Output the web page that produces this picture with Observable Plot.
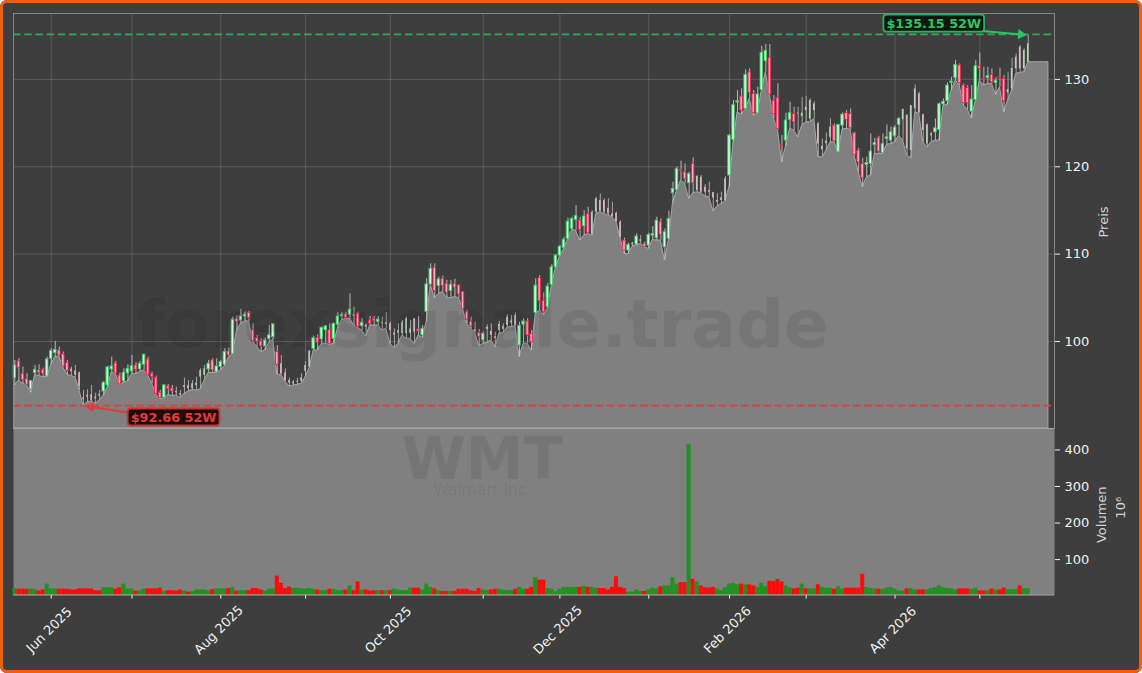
<!DOCTYPE html>
<html><head><meta charset="utf-8">
<script src="https://cdn.jsdelivr.net/npm/d3@7"></script>
<script src="https://cdn.jsdelivr.net/npm/@observablehq/plot@0.6"></script>
<style>
html,body{margin:0;padding:0;background:#fff}
#fig{position:relative;width:1142px;height:673px;box-sizing:border-box;overflow:hidden;background:#3e3e3e;border-radius:7px;box-shadow:inset 0 0 0 3px #ee5f0c}
#top,#bot{position:absolute;left:0}
#top{top:0}#bot{top:428px}
svg{overflow:visible;background:none!important}
</style></head><body><div id="fig"><div id="top"></div><div id="bot"></div></div>
<script>
const opens=[95.87,97.78,96.37,95.79,94.57,96.44,96.75,96.78,96.06,98.08,
98.73,99.04,98.58,97.62,96.9,96.7,96.48,93.6,93.9,93.96,
93.7,94.0,94.34,95.03,96.86,97.55,96.17,95.49,96.40,96.63,
97.32,96.86,97.40,98.00,96.37,95.91,94.19,93.65,94.92,94.65,
94.34,94.1,94.8,95.03,94.65,95.0,95.98,96.17,96.86,97.89,
96.56,97.13,97.40,98.92,98.65,102.66,102.47,102.93,103.35,101.33,
100.45,100.07,99.49,100.37,100.56,98.84,97.50,96.47,95.6,95.2,
95.4,95.5,96.63,97.12,99.22,100.48,100.29,101.36,101.36,100.37,
101.97,102.96,103.19,103.12,103.12,103.23,101.82,101.9,102.47,102.66,
102.28,102.2,102.0,102.08,100.8,101.0,100.94,100.94,101.0,102.66,
101.44,100.75,103.42,106.59,108.50,106.40,107.24,106.67,105.83,106.67,
106.47,105.71,103.42,102.28,101.4,101.05,100.18,101.44,101.21,100.6,
101.32,101.44,101.89,102.2,103.04,99.60,101.97,102.35,100.92,103.33,
107.33,104.74,103.97,106.53,108.55,109.89,110.77,111.80,112.94,113.97,
113.90,113.25,114.66,112.37,114.85,116.19,116.19,115.31,114.66,114.74,
113.71,111.61,110.46,111.1,111.15,111.5,111.23,111.04,112.18,111.88,
113.71,110.84,111.80,117.03,117.41,119.70,119.43,118.17,120.39,117.33,
118.86,117.71,117.33,117.10,116.0,116.2,116.19,119.05,123.14,127.41,
128.10,126.68,130.88,128.40,126.19,128.86,132.14,132.53,127.60,127.94,
122.49,123.06,125.43,126.10,126.2,125.8,126.87,125.53,126.49,124.96,
122.0,122.7,123.43,124.77,121.72,124.77,126.22,126.10,123.89,121.91,
120.38,120.26,120.38,122.55,123.36,121.64,123.24,123.05,123.55,124.85,
125.46,125.91,121.91,126.68,128.39,125.99,122.67,123.6,124.0,124.27,
127.2,127.56,129.65,130.19,131.64,129.35,129.08,126.37,127.71,131.56,
130.11,130.19,130.57,129.65,130.30,130.11,128.5,128.97,131.26,133.74,
131.26,132.02];
const highs=[97.89,98.08,97.13,96.37,95.60,97.32,97.40,97.01,98.27,99.23,
100.07,99.42,98.85,97.89,97.13,97.32,96.56,94.46,94.53,95.03,
94.15,94.46,95.49,97.20,98.27,97.78,96.44,96.94,97.40,98.46,
97.62,97.78,98.62,98.27,96.56,96.10,94.46,95.11,95.11,95.03,
94.84,94.46,95.87,95.60,95.60,95.98,96.94,97.32,97.89,98.08,
98.08,97.89,99.23,99.30,102.85,102.97,103.73,103.43,103.50,102.09,
100.75,100.37,100.45,101.90,102.09,99.60,98.46,96.93,95.86,95.60,
95.86,96.36,97.77,99.03,100.67,100.83,101.70,101.89,102.08,102.16,
103.34,103.42,103.42,105.52,103.99,103.42,102.66,102.08,102.92,102.92,
102.92,102.85,103.34,102.28,101.51,102.08,102.47,102.85,102.47,102.66,
102.92,101.89,107.24,108.96,108.96,107.43,107.54,107.05,107.05,107.16,
106.55,105.79,103.61,102.85,102.28,101.44,101.13,101.97,102.08,101.13,
102.35,102.08,103.12,103.04,103.34,102.28,102.66,102.66,101.30,107.22,
107.60,105.62,106.72,108.86,110.00,111.04,111.99,114.17,114.28,115.62,
114.28,115.04,115.42,115.04,116.57,116.95,116.38,116.38,116.00,114.85,
113.90,111.88,111.30,111.42,112.37,112.18,111.42,112.45,113.21,114.28,
114.09,112.94,114.97,118.29,120.01,120.69,120.39,119.43,121.07,119.05,
119.05,118.02,118.29,117.14,116.95,117.14,118.94,123.71,127.64,128.78,
128.97,131.15,131.27,128.78,129.17,133.86,134.05,134.05,128.21,129.55,
123.63,126.19,127.45,126.87,126.87,128.0,128.13,127.82,127.52,125.15,
123.24,123.93,125.53,124.96,124.89,126.22,126.49,126.68,124.00,122.17,
121.03,121.14,123.81,123.32,123.55,123.81,124.85,124.58,124.77,125.72,
126.68,126.03,127.06,129.43,128.59,126.10,124.96,124.0,125.53,127.36,
127.82,129.65,130.30,132.21,131.83,129.54,129.35,129.35,132.21,133.09,
131.45,131.45,131.26,130.30,131.33,130.49,130.88,132.48,132.98,133.93,
133.55,135.15];
const lows=[95.03,95.60,95.22,95.03,94.19,96.25,96.10,95.98,95.98,97.40,
98.27,98.39,97.05,96.25,96.10,95.98,94.46,92.66,93.12,93.20,
92.93,93.31,93.88,94.84,96.56,96.33,95.11,95.33,95.49,96.37,
96.33,96.56,96.75,96.17,95.22,93.96,93.43,93.58,93.96,93.81,
93.88,93.58,94.07,94.34,94.50,94.46,94.57,95.60,96.48,96.44,
96.44,96.75,97.24,98.27,98.58,101.33,102.09,102.36,102.36,100.07,
99.42,98.85,99.04,99.91,100.29,96.25,96.25,95.48,94.91,95.02,
95.10,95.21,95.98,97.01,99.03,99.03,99.80,99.80,99.68,99.80,
101.51,102.47,102.66,102.66,101.89,101.59,101.32,100.63,101.89,101.89,
101.89,101.32,101.51,99.80,99.30,99.80,100.75,100.37,100.37,99.80,
100.75,100.44,102.35,106.55,105.02,105.52,105.71,105.06,105.02,105.14,
105.02,103.73,102.08,101.51,101.05,99.53,99.80,99.91,100.18,99.41,
100.94,101.05,101.70,101.70,101.82,98.27,99.80,99.80,99.01,103.21,
103.59,103.10,103.86,106.45,108.48,109.78,110.65,111.68,112.83,112.75,
111.61,112.18,112.37,112.18,114.66,114.85,114.66,114.47,114.28,113.71,
111.91,110.08,110.08,110.92,111.04,111.23,110.84,110.65,111.68,111.61,
111.61,109.32,111.68,115.88,117.33,118.48,118.10,116.38,117.03,117.14,
117.03,116.65,116.57,114.97,115.50,115.81,116.11,117.71,122.87,126.30,
126.04,126.61,127.83,125.92,126.11,128.78,130.88,128.21,125.54,124.28,
120.58,122.37,124.40,124.20,123.43,124.77,125.15,125.15,125.53,121.14,
121.14,121.91,122.86,122.86,121.72,124.31,124.39,124.31,121.26,119.43,
117.71,118.85,119.04,121.53,121.53,121.53,122.55,122.67,122.86,123.62,
123.05,121.33,121.03,126.30,126.10,122.86,122.29,122.86,123.05,123.05,
127.06,127.14,128.78,129.92,129.43,127.06,126.60,125.61,127.63,129.92,
129.35,129.54,129.54,128.28,129.16,126.30,127.63,128.78,130.69,130.80,
130.88,132.02];
const closes=[97.32,97.01,95.64,95.11,95.53,96.82,96.44,96.37,98.00,98.96,
99.11,98.46,97.20,96.67,96.6,96.2,94.92,93.4,93.7,93.31,
93.5,93.8,95.33,97.09,97.20,96.40,95.14,96.48,96.94,97.24,
96.78,97.51,98.54,96.25,95.98,94.07,93.58,95.03,94.65,94.34,
94.19,93.9,95.0,94.65,95.22,95.3,96.75,96.94,97.51,96.75,
97.20,97.70,98.85,98.46,102.55,102.28,102.93,103.12,102.74,100.11,
99.99,99.49,100.18,100.75,102.01,97.39,96.36,95.60,95.3,95.4,
95.5,95.9,97.31,98.92,100.44,99.91,101.63,101.78,99.80,102.08,
102.93,103.12,102.73,103.69,102.96,101.70,102.20,101.7,102.08,102.43,
102.58,102.1,102.2,101.32,101.0,101.3,102.28,102.66,101.5,101.13,
101.21,101.51,106.59,108.38,105.83,107.16,106.40,105.63,106.55,106.21,
105.44,103.80,102.54,101.78,101.2,100.56,100.94,101.70,100.75,100.4,
102.01,101.82,102.85,102.4,101.89,101.86,102.35,100.75,99.97,106.45,
104.66,103.40,106.34,108.55,109.89,110.92,111.72,113.78,114.09,114.43,
112.83,114.36,112.45,114.85,116.38,114.97,114.85,114.66,114.36,113.78,
111.99,110.46,111.11,111.3,112.07,111.7,110.92,112.26,112.37,113.90,
112.26,112.56,114.09,117.52,119.81,119.55,118.67,119.24,118.17,118.94,
117.14,117.14,117.14,116.49,116.2,116.5,118.67,123.63,127.14,127.56,
126.49,130.58,128.52,126.19,128.33,133.10,133.33,128.33,126.11,124.39,
122.37,125.35,126.19,125.15,126.1,126.2,126.49,127.63,127.25,122.67,
122.4,123.0,124.58,122.97,124.85,126.03,125.42,124.46,121.41,120.57,
118.74,120.49,121.79,122.78,121.79,122.63,123.43,124.00,124.54,125.53,
126.60,122.10,127.06,128.97,126.22,124.20,124.85,123.8,124.46,127.21,
127.5,129.35,129.81,131.72,129.65,127.33,127.33,127.75,131.56,131.26,
129.96,130.42,129.73,129.92,130.19,127.56,128.9,131.3,132.59,131.26,
133.36,134.12];
const volumes=[21,19,19,19,19,18,14,17,33,20,
20,19,19,19,17,17,20,20,20,20,
15,15,23,23,23,19,23,33,20,20,
14,14,19,20,20,20,22,13,15,15,
14,17,14,11,12,17,17,17,15,18,
20,20,20,21,24,14,15,15,15,21,
21,17,14,19,20,55,35,21,25,21,
22,20,19,21,19,17,15,15,19,19,
15,15,17,28,15,39,17,17,14,15,
15,15,15,15,20,17,15,15,22,22,
22,17,33,24,20,15,13,13,13,13,
19,19,19,15,13,21,17,15,17,19,
19,17,15,15,19,24,19,19,24,51,
44,44,21,19,12,19,24,24,24,24,
24,27,24,24,22,21,21,17,24,53,
24,21,11,11,17,13,13,17,22,20,
26,28,28,51,33,37,37,415,46,39,
28,23,22,24,20,15,23,33,35,31,
33,31,31,28,24,35,26,41,40,46,
39,28,23,20,22,33,20,20,20,31,
24,22,22,19,26,19,22,22,22,22,
60,24,21,20,19,19,22,24,20,14,
14,20,21,17,17,17,17,21,23,28,
23,21,20,17,20,20,20,19,22,14,
14,15,20,17,17,22,18,18,18,28,
20,20];
const paleRanges=[[14,21],[40,47],[66,73],[84,84],[87,87],[91,99],[114,114],[117,124],[143,150],[153,153],[155,155],[169,176],[194,202],[220,227],[246,251]];
const extendDays=[252,253,254,255,256];
const tickDays=[9,29,51,72,93,116,135,157,177,196,218,239];
const tickLabels=["Jun 2025","","Aug 2025","","Oct 2025","","Dec 2025","","Feb 2026","","Apr 2026",""];
const priceTicks=[100,110,120,130];
const volumeTicks=[100,200,300,400];
const high52={label:"$135.15 52W",value:135.15,color:"#2fc463",dash:"#2eaa5e",box:"#07190d"};
const low52={label:"$92.66 52W",value:92.66,color:"#e23b3b",dash:"#dc3f3f",box:"#1d0a0a"};

const isPale=new Set(paleRanges.flatMap(([a,b])=>d3.range(a,b+1)));
const candles=opens.map((o,i)=>({i,o,h:highs[i],l:lows[i],c:closes[i],v:volumes[i],up:closes[i]>=o,pale:isPale.has(i)}));
const areaRows=[...candles.map(d=>({i:d.i,l:d.l})),...extendDays.map(i=>({i,l:lows[lows.length-1]}))];
const xDomain=[-0.34,257.5];
const priceDomain=[90.1,137.6];
const font="'DejaVu Sans',sans-serif";
const baseStyle={fontFamily:font,fontSize:"13px",color:"#f2f2f2",background:"transparent"};

const pricePlot=Plot.plot({
  width:1142,height:428,marginTop:13,marginBottom:0,marginLeft:13,marginRight:88,
  style:baseStyle,
  x:{domain:xDomain,axis:null},
  y:{domain:priceDomain,axis:null},
  marks:[
    Plot.gridX(tickDays,{x:d=>d,stroke:"#fff",strokeOpacity:0.15,strokeWidth:1}),
    Plot.gridY(priceTicks,{y:d=>d,dy:-0.5,stroke:"#fff",strokeOpacity:0.15,strokeWidth:1}),
    Plot.axisY({anchor:"right",ticks:priceTicks,tickSize:5,tickPadding:5,label:null,stroke:"#f2f2f2",fill:"#f2f2f2",fontSize:13,dy:-0.5}),
    Plot.areaY(areaRows,{x:"i",y1:()=>priceDomain[0],y2:"l",fill:"#808080",stroke:"#a6a6a6",strokeWidth:1}),
    Plot.ruleX(candles,{x:"i",y1:"l",y2:"h",stroke:d=>d.pale?(d.up?"#adb3ad":"#b8b0b2"):"#c8c8c8",strokeWidth:0.9}),
    Plot.rect(candles.filter(d=>!d.pale),{x1:d=>d.i-0.31,x2:d=>d.i+0.31,y1:d=>Math.min(d.o,d.c),y2:d=>Math.max(d.o,d.c),
      fill:d=>d.up?"#dff3e4":"#f9a9bb",stroke:d=>d.up?"#3ecb6a":"#e8244f",strokeWidth:0.9}),
    Plot.rect(candles.filter(d=>d.pale),{x1:d=>d.i-0.2,x2:d=>d.i+0.2,y1:d=>Math.min(d.o,d.c),y2:d=>Math.max(d.o,d.c),
      fill:d=>d.up?"#b7ceba":"#dcb4bf"}),
    Plot.text(["forexsignale.trade"],{x:()=>115.8,y:()=>101.9,text:d=>d,fontSize:66.5,fontWeight:"bold",fill:"#000",fillOpacity:0.075,lineAnchor:"middle"}),
    Plot.ruleY([high52],{y:"value",dy:-0.5,stroke:"dash",strokeDasharray:"7.5,3.7",strokeWidth:1.7}),
    Plot.ruleY([low52],{y:"value",dy:-0.5,stroke:"dash",strokeDasharray:"7.5,3.7",strokeWidth:1.7}),
    Plot.link([high52],{x1:()=>239.7,y1:()=>135.6,x2:()=>249.4,y2:()=>135.2,stroke:"color",strokeWidth:2}),
    Plot.dot([high52],{x:()=>249.2,y:()=>135.2,symbol:"triangle",r:3.8,rotate:95,fill:"color"}),
    Plot.link([low52],{x1:()=>28.4,y1:()=>91.9,x2:()=>18.6,y2:()=>92.6,stroke:"color",strokeWidth:2}),
    Plot.dot([low52],{x:()=>18.8,y:()=>92.6,symbol:"triangle",r:3.8,rotate:-83,fill:"color"}),
    Plot.text([high52],{x:()=>227.6,y:()=>136.45,text:"label",fill:"color",fontSize:12.8,fontWeight:"bold",lineAnchor:"middle"}),
    Plot.text([low52],{x:()=>39.3,y:()=>91.37,text:"label",fill:"color",fontSize:12.8,fontWeight:"bold",lineAnchor:"middle"}),
    Plot.text(["Preis"],{frameAnchor:"right",dx:49,dy:1,text:d=>d,rotate:-90,textAnchor:"middle",fill:"#d2d2d2",fontSize:13}),
    Plot.frame({stroke:"#878787",strokeWidth:1})
  ]
});
const volumePlot=Plot.plot({
  width:1142,height:245,marginTop:0,marginBottom:78.5,marginLeft:13,marginRight:88,
  style:baseStyle,
  x:{domain:xDomain,axis:null},
  y:{domain:[3.2,458.6],axis:null},
  marks:[
    Plot.frame({fill:"#808080"}),
    Plot.text(["WMT"],{frameAnchor:"top",x:()=>115.8,dy:9,text:d=>d,fontSize:58,fontWeight:"bold",fill:"#000",fillOpacity:0.08,lineAnchor:"top"}),
    Plot.text(["Walmart Inc."],{frameAnchor:"top",x:()=>115.8,dy:55,text:d=>d,fontSize:15.5,fill:"#000",fillOpacity:0.08,lineAnchor:"top"}),
    Plot.rect(candles,{x1:d=>d.i-0.5,x2:d=>d.i+0.5,y1:()=>3.2,y2:"v",fill:d=>d.up?"#229122":"#ff0a0a"}),
    Plot.axisY({anchor:"right",ticks:volumeTicks,tickSize:5,tickPadding:5,label:null,stroke:"#f2f2f2",fill:"#f2f2f2",fontSize:13}),
    Plot.axisX({ticks:tickDays,tickFormat:()=>"",tickSize:4,label:null,stroke:"#f2f2f2"}),
    Plot.axisX({ticks:tickDays,tickFormat:d=>tickLabels[tickDays.indexOf(d)],tickSize:0,tickPadding:35,dx:-2,tickRotate:-45,textAnchor:"middle",lineAnchor:"middle",label:null,fill:"#f2f2f2",fontSize:13}),
    Plot.ruleY([3.2],{stroke:"#a6a6a6"}),
    Plot.ruleY([458.6],{stroke:"#a6a6a6"}),
    Plot.text(["Volumen"],{frameAnchor:"right",dx:47,dy:3,text:d=>d,rotate:-90,textAnchor:"middle",fill:"#d2d2d2",fontSize:13}),
    Plot.text(["10\u2076"],{frameAnchor:"right",dx:66,dy:-4,text:d=>d,rotate:-90,textAnchor:"middle",fill:"#d2d2d2",fontSize:13})
  ]
});
document.getElementById("top").append(pricePlot);
document.getElementById("bot").append(volumePlot);
const NS="http://www.w3.org/2000/svg";
// Rounded label boxes fitted around the annotation texts
const origin=pricePlot.getBoundingClientRect();
[[high52,"#2fae5c"],[low52,"#c93434"]].forEach(([a,edge])=>{
  const t=[...pricePlot.querySelectorAll("text")].find(e=>e.textContent===a.label);
  const b=t.getBoundingClientRect();
  const r=document.createElementNS(NS,"rect");
  r.setAttribute("x",b.left-origin.left-3);r.setAttribute("y",b.top-origin.top-1);
  r.setAttribute("width",b.width+6);r.setAttribute("height",b.height+2);
  r.setAttribute("rx",3);r.setAttribute("fill",a.box);r.setAttribute("stroke",edge);r.setAttribute("stroke-width",1.8);
  const g=t.closest("g");g.parentNode.insertBefore(r,g);
});
</script></body></html>
